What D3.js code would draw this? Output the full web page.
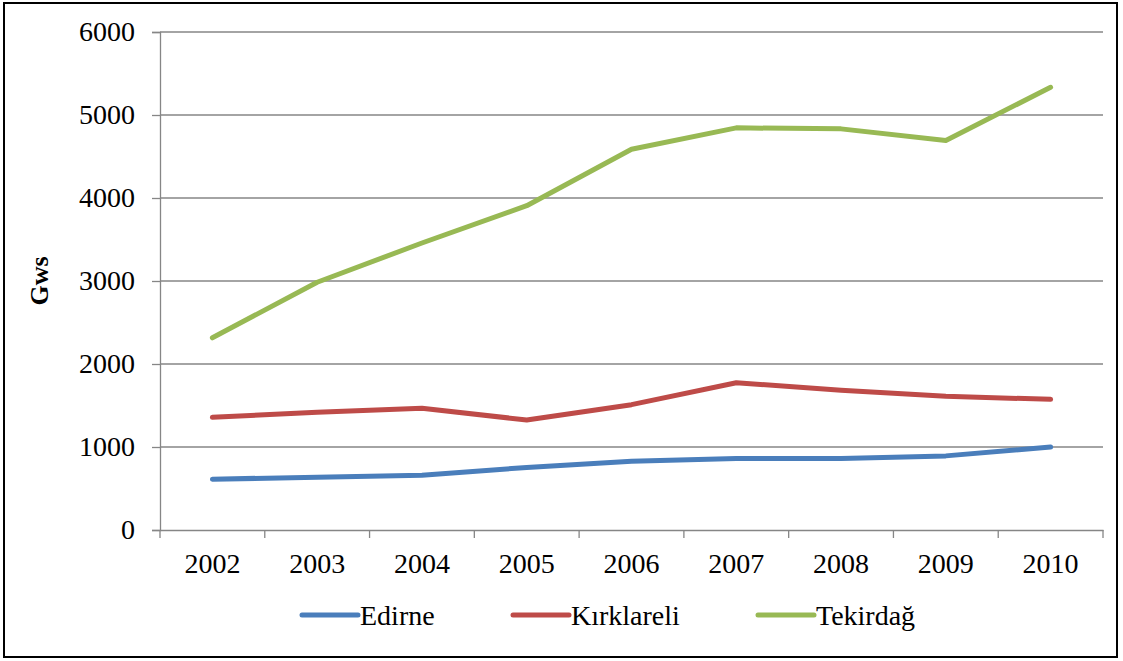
<!DOCTYPE html>
<html><head><meta charset="utf-8">
<script src="https://cdn.jsdelivr.net/npm/d3@7"></script>
<style>body{margin:0;background:#fff;}svg{display:block;}</style>
</head><body>
<script>
const years = ["2002","2003","2004","2005","2006","2007","2008","2009","2010"];
const edirne = [612, 636, 661, 754, 828, 860, 860, 893, 1000];
const kirklareli = [1358, 1419, 1468, 1325, 1510, 1774, 1684, 1611, 1574];
const tekirdag = [2316, 2985, 3458, 3907, 4588, 4845, 4833, 4694, 5334];
const seriesNames = ["Edirne", "Kırklareli", "Tekirdağ"];
const yTicks = [0, 1000, 2000, 3000, 4000, 5000, 6000];

const colors = ["#4A7EBB", "#BE4B48", "#98B954"];
const seriesData = [edirne, kirklareli, tekirdag];
const W = 1123, H = 661;
const m = {left:160, right:1103, top:32, bottom:530};
const font = "'Liberation Serif','Times New Roman',serif";

const svg = d3.select("body").append("svg").attr("width", W).attr("height", H);
svg.append("rect").attr("x",4).attr("y",3).attr("width",1113).attr("height",654)
  .attr("fill","#fff").attr("stroke","#000").attr("stroke-width",2);

const x = d3.scaleBand().domain(years).range([m.left, m.right]);
const y = d3.scaleLinear().domain([0,6000]).range([m.bottom, m.top]);
const grey = "#868686";

// gridlines
svg.append("g").selectAll("line").data(yTicks.filter(d=>d>0)).join("line")
  .attr("x1", m.left).attr("x2", m.right)
  .attr("y1", d=>y(d)).attr("y2", d=>y(d))
  .attr("stroke", grey).attr("stroke-width", 1.3);

// y axis
const yAxis = svg.append("g").attr("transform", `translate(${m.left},0)`)
  .call(d3.axisLeft(y).tickValues(yTicks).tickSize(8).tickPadding(17).tickFormat(d3.format("d")));
yAxis.select(".domain").attr("stroke", grey).attr("stroke-width", 1.3);
yAxis.selectAll(".tick line").attr("stroke", grey).attr("stroke-width", 1.3);
yAxis.selectAll("text").attr("font-family", font).attr("font-size", 28).attr("fill","#000");

// x axis
const xAxis = svg.append("g").attr("transform", `translate(0,${m.bottom})`)
  .call(d3.axisBottom(x).tickSize(0).tickPadding(23));
xAxis.select(".domain").attr("stroke", grey).attr("stroke-width", 1.3);
xAxis.selectAll("text").attr("font-family", font).attr("font-size", 28).attr("fill","#000");
// category boundary ticks
const bounds = years.map(d=>x(d)).concat([x(years[years.length-1]) + x.bandwidth()]);
svg.append("g").selectAll("line").data(bounds).join("line")
  .attr("x1", d=>d).attr("x2", d=>d).attr("y1", m.bottom).attr("y2", m.bottom+8)
  .attr("stroke", grey).attr("stroke-width", 1.3);

// y label
svg.append("text").attr("transform", "translate(48,281) rotate(-90)")
  .attr("text-anchor","middle").attr("font-family", font).attr("font-weight","bold")
  .attr("font-size", 26).text("Gws");

// lines
const line = d3.line().x((d,i)=>x(years[i]) + x.bandwidth()/2).y(d=>y(d));
seriesData.forEach((s,k)=>{
  svg.append("path").datum(s).attr("d", line).attr("fill","none")
    .attr("stroke", colors[k]).attr("stroke-width", 5)
    .attr("stroke-linecap","round").attr("stroke-linejoin","round");
});

// legend
const legX = [302, 513, 758];
const lg = svg.append("g");
seriesNames.forEach((n,k)=>{
  lg.append("line").attr("x1", legX[k]).attr("x2", legX[k]+56).attr("y1", 615).attr("y2", 615)
    .attr("stroke", colors[k]).attr("stroke-width", 5).attr("stroke-linecap","round");
  lg.append("text").attr("x", legX[k]+58).attr("y", 625).attr("font-family", font)
    .attr("font-size", 28).attr("fill","#000").text(n);
});
</script>
</body></html>
